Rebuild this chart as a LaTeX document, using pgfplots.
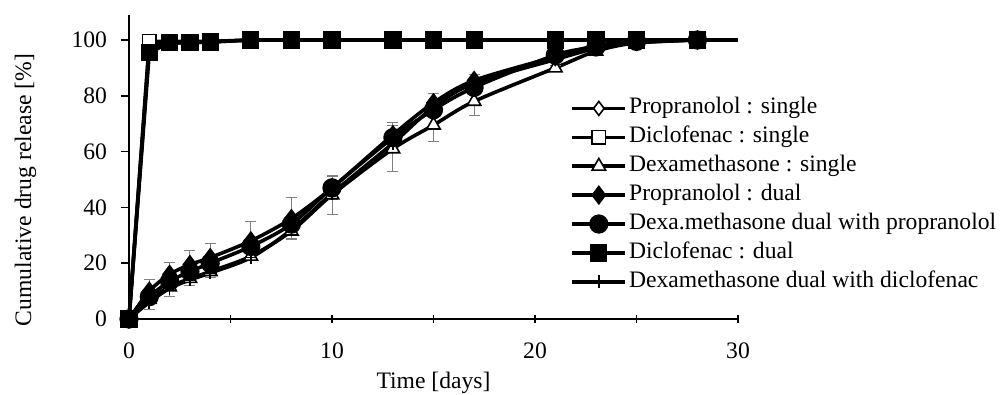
\documentclass[border=0pt]{standalone}
\usepackage{fontspec}
\setmainfont{Liberation Serif}
\usepackage{pgfplots}
\pgfplotsset{compat=1.18}
\begin{document}
\fontsize{23.6}{28}\selectfont
\begin{tikzpicture}
\path[use as bounding box] (0pt,0pt) rectangle (1002pt,394pt);
\begin{axis}[
  at={(129pt,75pt)}, anchor=south west,
  scale only axis, width=609pt, height=304.1pt,
  xmin=0, xmax=30, ymin=0, ymax=109,
  axis x line*=bottom, axis y line*=left,
  axis line style={-, line width=1.5pt, black},
  clip=false,
  xtick={0,10,20,30}, minor xtick={5,15,25},
  ytick={0,20,40,60,80,100},
  xtick align=center, ytick align=outside,
  major tick length=8pt, minor tick length=8pt,
  tick style={line width=1.5pt, black},
  /pgf/number format/assume math mode=true,
  yticklabel style={xshift=-6pt},
  xticklabel style={yshift=-12pt},
  xlabel={Time [days]},
  ylabel={Cumulative drug release [\%]},
  xlabel style={at={(axis description cs:0.5,-0.21)}, anchor=center},
  ylabel style={at={(axis description cs:-0.17,0.424)}, anchor=center, rotate=0},
  every axis plot/.append style={line width=3.6pt, black},
  legend style={draw=none, fill=none, at={(0.725,0.727)}, anchor=north west,
    inner sep=0pt, outer sep=0pt, row sep=7.9pt,
    nodes={inner xsep=2pt, inner ysep=0pt, text height=16pt, text depth=5pt}},
  legend cell align=left,
  legend image code/.code={\draw[mark repeat=2,mark phase=2,#1] plot coordinates {(0pt,0pt) (26.5pt,0pt) (53pt,0pt)};},
]
% Propranolol : single
\addplot[mark=diamond*, mark size=7pt, mark options={solid, fill=white, line width=1.6pt}] coordinates {
(0,0)(1,98)(2,99)(3,99)(4,99.3)(6,100)(8,100)(10,100)(13,100)(15,100)(17,100)(21,100)(23,100)(25,100)(28,100)};
\addlegendentry{Propranolol : single}
% Diclofenac : single
\addplot[mark=square*, mark size=6.8pt, mark options={solid, fill=white, line width=1.6pt}] coordinates {
(0,0)(1,99.5)(2,99.5)(3,99.5)(4,99.5)(6,100)(8,100)(10,100)(13,100)(15,100)(17,100)(21,100)(23,100)(25,100)(28,100)};
\addlegendentry{Diclofenac : single}
% Dexamethasone : single
\addplot[smooth, mark=triangle*, mark size=7.8pt, mark options={solid, fill=white, line width=1.6pt},
  error bars/.cd, y dir=both, y explicit,
  error bar style={line width=1pt, gray},
  error mark options={rotate=90, line width=1pt, gray, mark size=5.5pt}] coordinates {
(0,0) +- (0,0)
(1,7) +- (0,3.5)
(2,11.5) +- (0,3.5)
(3,14.5) +- (0,2.5)
(4,17) +- (0,2)
(6,22.5) +- (0,1.5)
(8,31.5) +- (0,2.8)
(10,44.5) +- (0,7)
(13,61) +- (0,8.3)
(15,69.5) +- (0,5.7)
(17,78) +- (0,5.2)
(21,90) +- (0,1)
(23,96) +- (0,1)
(25,99) +- (0,0.5)
(28,100) +- (0,0)};
\addlegendentry{Dexamethasone : single}
% Propranolol : dual
\addplot[smooth, mark=diamond*, mark size=7pt, mark options={solid, fill=black},
  error bars/.cd, y dir=both, y explicit,
  error bar style={line width=1pt, gray},
  error mark options={rotate=90, line width=1pt, gray, mark size=5.5pt}] coordinates {
(0,0) +- (0,0)
(1,10) +- (0,4.3)
(2,16) +- (0,4.4)
(3,19.5) +- (0,5)
(4,22) +- (0,5)
(6,28) +- (0,6.8)
(8,36) +- (0,7.4)
(10,47) +- (0,4)
(13,66) +- (0,4.6)
(15,77.5) +- (0,3.5)
(17,85.5) +- (0,2.3)
(21,94) +- (0,1)
(23,98) +- (0,1)
(25,99.5) +- (0,0.3)
(28,100) +- (0,0)};
\addlegendentry{Propranolol : dual}
% Dexa.methasone dual with propranolol
\addplot[smooth, mark=*, mark size=7.8pt, mark options={solid, fill=black}] coordinates {
(0,0)(1,8)(2,13.5)(3,17)(4,20)(6,26)(8,34)(10,47)(13,65)(15,75)(17,83)(21,94.6)(23,97.5)(25,99.5)(28,100)};
\addlegendentry{Dexa.methasone dual with propranolol}
% Diclofenac : dual
\addplot[mark=square*, mark size=6.8pt, mark options={solid, fill=black}] coordinates {
(0,0)(1,95.5)(2,99)(3,99)(4,99.3)(6,100)(8,100)(10,100)(13,100)(15,100)(17,100)(21,100)(23,100)(25,100)(28,100)};
\addlegendentry{Diclofenac : dual}
% Dexamethasone dual with diclofenac
\addplot[smooth, mark=+, mark size=6.5pt, mark options={solid, line width=1.6pt}] coordinates {
(0,0)(1,6)(2,11)(3,14)(4,16.5)(6,22)(8,32)(10,45)(13,63)(15,76)(17,84.5)(21,93)(23,97)(25,99)(28,100)};
\addlegendentry{Dexamethasone dual with diclofenac}
% tail of the burst curve
\addplot[forget plot, no marks] coordinates {(28,100)(30,100)};
\end{axis}
\end{tikzpicture}
\end{document}
